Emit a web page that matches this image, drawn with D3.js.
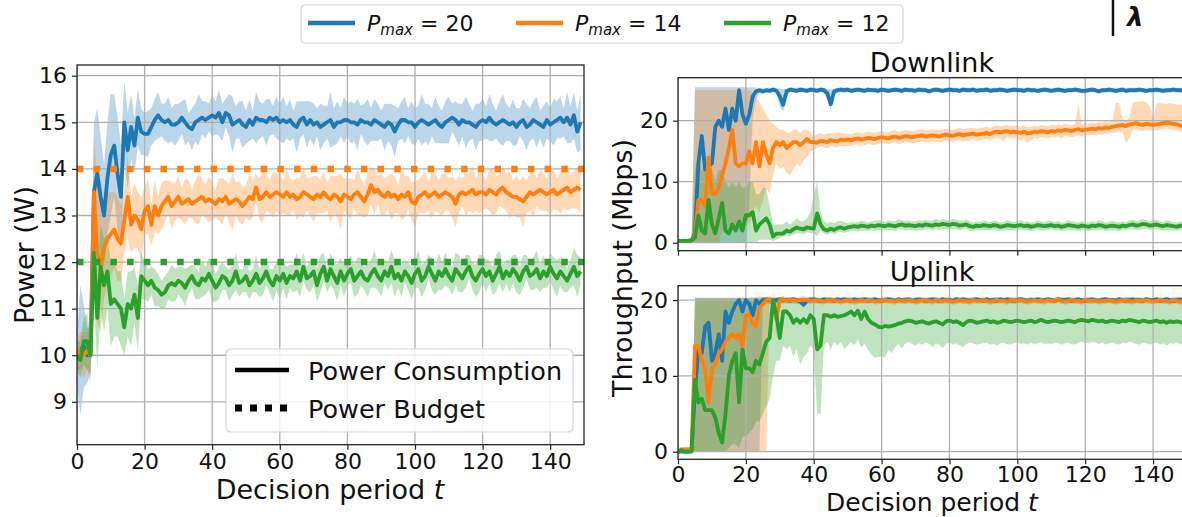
<!DOCTYPE html>
<html>
<head>
<meta charset="utf-8">
<script src="https://cdn.jsdelivr.net/npm/d3@7"></script>
<style>
  body { margin: 0; background: #fff; }
  text { font-family: "DejaVu Sans", sans-serif; fill: #111; white-space: pre; }
</style>
</head>
<body>
<svg id="chart" width="1182" height="517"></svg>
<script>
// decision periods t = 0..149 and tick values
const periods = d3.range(150);
const xTickValues = [0, 20, 40, 60, 80, 100, 120, 140];
const powerTicks = [9, 10, 11, 12, 13, 14, 15, 16];
const throughputTicks = [0, 10, 20];
const pmaxLabels = ["20", "14", "12"];
const budgetValues = [14, 12];   // power budgets for Pmax = 14 and Pmax = 12

// ---- Power (W): mean and half-width of the shaded band ----
const powerBlue = [
  9.9, 10.1, 10.2, 10.0, 10.1, 13.5, 13.9, 13.4, 13.0, 13.8,
  14.3, 14.5, 13.9, 13.4, 15.0, 14.4, 14.9, 14.5, 15.1, 14.8,
  14.75, 14.75, 14.9, 15.05, 15.15, 15.05, 15.0, 15.05, 14.95, 14.95,
  15.0, 15.1, 15.0, 14.9, 14.85, 15.0, 15.05, 15.1, 15.05, 15.1,
  15.15, 15.1, 15.2, 15.0, 15.2, 15.15, 14.95, 15.0, 15.05, 14.95,
  14.9, 15.05, 14.95, 15.1, 15.05, 15.05, 15.0, 15.1, 15.05, 15.1,
  15.0, 15.05, 15.0, 15.05, 14.95, 14.9, 15.05, 15.1, 14.95, 15.05,
  14.95, 15.0, 14.9, 14.95, 15.0, 15.05, 14.9, 15.0, 15.0, 15.05,
  15.05, 15.0, 15.0, 14.95, 15.05, 15.0, 15.0, 14.95, 15.05, 15.0,
  14.95, 14.9, 15.0, 14.95, 14.8, 14.95, 15.05, 15.05, 15.0, 15.0,
  14.9, 15.0, 15.05, 15.0, 14.95, 15.0, 15.05, 14.95, 14.9, 15.0,
  15.05, 15.1, 15.05, 14.95, 15.05, 15.0, 15.0, 14.95, 14.9, 15.0,
  15.05, 15.0, 15.1, 15.0, 14.95, 15.0, 15.05, 15.0, 14.95, 15.0,
  14.9, 15.0, 15.05, 14.9, 14.95, 15.05, 15.0, 14.95, 14.9, 15.05,
  14.95, 15.0, 15.05, 15.1, 15.0, 15.1, 14.95, 15.15, 14.8, 15.0
];
const powerBlueDev = [
  0.5, 1.4, 0.9, 0.6, 0.5, 1.5, 1.4, 1.3, 1.1, 1.2,
  1.3, 1.1, 1.2, 1.1, 0.9, 0.8, 0.7, 0.6, 0.6, 0.5,
  0.45, 0.5, 0.4, 0.45, 0.5, 0.35, 0.4, 0.5, 0.35, 0.45,
  0.4, 0.35, 0.5, 0.3, 0.45, 0.4, 0.55, 0.35, 0.4, 0.3,
  0.45, 0.35, 0.5, 0.4, 0.3, 0.45, 0.6, 0.35, 0.4, 0.5,
  0.35, 0.45, 0.3, 0.55, 0.4, 0.35, 0.5, 0.4, 0.3, 0.45,
  0.4, 0.5, 0.35, 0.45, 0.3, 0.55, 0.4, 0.35, 0.5, 0.4,
  0.45, 0.3, 0.5, 0.4, 0.35, 0.6, 0.4, 0.45, 0.3, 0.5,
  0.35, 0.45, 0.4, 0.55, 0.3, 0.4, 0.5, 0.35, 0.45, 0.4,
  0.3, 0.5, 0.4, 0.45, 0.55, 0.35, 0.4, 0.5, 0.3, 0.45,
  0.4, 0.35, 0.55, 0.4, 0.45, 0.3, 0.5, 0.4, 0.35, 0.45,
  0.5, 0.3, 0.4, 0.45, 0.35, 0.55, 0.4, 0.3, 0.5, 0.4,
  0.45, 0.35, 0.5, 0.4, 0.3, 0.45, 0.55, 0.4, 0.35, 0.5,
  0.4, 0.3, 0.45, 0.5, 0.35, 0.4, 0.55, 0.3, 0.45, 0.4,
  0.35, 0.5, 0.4, 0.45, 0.3, 0.55, 0.4, 0.5, 0.45, 0.6
];
const powerOrange = [
  10.0, 10.1, 10.0, 10.1, 10.0, 13.5, 12.2, 11.9, 12.3, 12.5,
  12.6, 12.7, 12.5, 12.4, 12.9, 13.4, 12.8, 13.0, 12.9, 12.7,
  13.1, 13.2, 12.8, 13.2, 13.0, 13.2, 13.3, 13.4, 13.2, 13.3,
  13.4, 13.25, 13.3, 13.35, 13.25, 13.3, 13.35, 13.4, 13.3, 13.35,
  13.3, 13.25, 13.35, 13.3, 13.4, 13.25, 13.3, 13.35, 13.3, 13.2,
  13.3, 13.4, 13.35, 13.6, 13.35, 13.4, 13.5, 13.4, 13.45, 13.5,
  13.45, 13.4, 13.5, 13.4, 13.45, 13.35, 13.4, 13.5, 13.45, 13.4,
  13.35, 13.45, 13.4, 13.5, 13.4, 13.35, 13.45, 13.4, 13.3, 13.45,
  13.4, 13.35, 13.45, 13.5, 13.4, 13.3, 13.45, 13.65, 13.5, 13.55,
  13.45, 13.4, 13.5, 13.4, 13.45, 13.35, 13.45, 13.4, 13.5, 13.3,
  13.25, 13.4, 13.45, 13.5, 13.4, 13.45, 13.5, 13.4, 13.45, 13.5,
  13.45, 13.4, 13.25, 13.45, 13.5, 13.45, 13.5, 13.55, 13.45, 13.5,
  13.5, 13.45, 13.55, 13.5, 13.45, 13.55, 13.6, 13.5, 13.45, 13.4,
  13.4, 13.35, 13.3, 13.4, 13.5, 13.45, 13.5, 13.55, 13.5, 13.45,
  13.5, 13.55, 13.45, 13.5, 13.55, 13.6, 13.5, 13.55, 13.6, 13.55
];
const powerOrangeDev = [
  0.3, 0.4, 0.5, 0.4, 0.6, 1.2, 1.5, 1.4, 1.1, 1.0,
  0.9, 0.8, 0.9, 0.8, 0.7, 0.9, 0.6, 0.7, 0.6, 0.7,
  0.5, 0.6, 0.45, 0.55, 0.4, 0.5, 0.45, 0.35, 0.5, 0.4,
  0.45, 0.35, 0.5, 0.4, 0.3, 0.45, 0.55, 0.4, 0.35, 0.5,
  0.4, 0.3, 0.45, 0.5, 0.35, 0.4, 0.6, 0.35, 0.45, 0.4,
  0.35, 0.5, 0.4, 0.3, 0.45, 0.55, 0.4, 0.35, 0.5, 0.4,
  0.45, 0.35, 0.5, 0.4, 0.3, 0.45, 0.4, 0.55, 0.35, 0.4,
  0.5, 0.4, 0.35, 0.45, 0.3, 0.5, 0.4, 0.45, 0.6, 0.35,
  0.4, 0.45, 0.3, 0.5, 0.4, 0.35, 0.45, 0.4, 0.5, 0.3,
  0.45, 0.4, 0.35, 0.5, 0.4, 0.3, 0.55, 0.45, 0.35, 0.4,
  0.5, 0.35, 0.4, 0.45, 0.3, 0.5, 0.4, 0.35, 0.45, 0.4,
  0.35, 0.45, 0.5, 0.4, 0.3, 0.45, 0.4, 0.5, 0.35, 0.45,
  0.4, 0.3, 0.45, 0.5, 0.4, 0.35, 0.45, 0.4, 0.5, 0.35,
  0.45, 0.4, 0.55, 0.35, 0.4, 0.5, 0.3, 0.45, 0.4, 0.35,
  0.5, 0.4, 0.35, 0.45, 0.4, 0.5, 0.35, 0.4, 0.45, 0.5
];
const powerGreen = [
  10.0, 9.9, 10.3, 10.3, 10.0, 12.2, 10.8, 11.9, 11.5, 11.8,
  11.1, 11.2, 11.1, 11.0, 10.6, 11.1, 11.0, 11.3, 10.8, 11.7,
  11.6, 11.5, 11.6, 11.45, 11.4, 11.3, 11.35, 11.5, 11.55, 11.5,
  11.6, 11.55, 11.45, 11.6, 11.7, 11.55, 11.5, 11.65, 11.6, 11.75,
  11.6, 11.45, 11.55, 11.7, 11.65, 11.5, 11.6, 11.8, 11.55, 11.6,
  11.7, 11.5, 11.6, 11.75, 11.55, 11.65, 11.8, 11.6, 11.5, 11.7,
  11.6, 11.75, 11.55, 11.7, 11.65, 11.8, 11.6, 11.9, 11.65, 11.7,
  11.8, 11.5, 11.75, 11.9, 11.6, 11.85, 11.7, 11.55, 11.8, 11.6,
  11.75, 11.85, 11.6, 11.7, 11.8, 11.65, 11.6, 11.75, 11.85, 11.7,
  11.6, 11.8, 11.7, 11.9, 11.65, 11.75, 11.6, 11.8, 11.7, 11.55,
  11.75, 11.85, 11.6, 11.7, 11.9, 11.75, 11.6, 11.8, 11.7, 11.85,
  11.7, 11.6, 11.85, 11.75, 11.65, 11.8, 11.9, 11.7, 11.6, 11.75,
  11.85, 11.7, 11.8, 11.6, 11.75, 11.9, 11.65, 11.8, 11.7, 11.85,
  11.75, 11.6, 11.8, 11.9, 11.7, 11.75, 11.85, 11.65, 11.8, 11.7,
  11.9, 11.75, 11.65, 11.8, 11.7, 11.6, 11.75, 11.9, 11.7, 11.8
];
const powerGreenDev = [
  0.3, 0.4, 0.5, 0.6, 0.4, 1.0, 1.1, 0.9, 1.0, 0.8,
  0.9, 0.8, 0.7, 0.8, 0.6, 0.7, 0.8, 0.6, 0.7, 0.5,
  0.4, 0.35, 0.3, 0.4, 0.35, 0.3, 0.35, 0.3, 0.4, 0.35,
  0.3, 0.35, 0.4, 0.3, 0.25, 0.35, 0.3, 0.4, 0.3, 0.35,
  0.45, 0.3, 0.35, 0.3, 0.25, 0.35, 0.3, 0.4, 0.3, 0.25,
  0.35, 0.3, 0.25, 0.4, 0.3, 0.35, 0.3, 0.25, 0.35, 0.3,
  0.4, 0.3, 0.35, 0.25, 0.3, 0.4, 0.35, 0.3, 0.25, 0.35,
  0.3, 0.35, 0.4, 0.3, 0.25, 0.35, 0.3, 0.4, 0.3, 0.35,
  0.25, 0.3, 0.35, 0.4, 0.3, 0.25, 0.35, 0.3, 0.4, 0.3,
  0.35, 0.25, 0.3, 0.35, 0.4, 0.3, 0.35, 0.25, 0.3, 0.35,
  0.3, 0.4, 0.35, 0.3, 0.25, 0.35, 0.3, 0.4, 0.3, 0.35,
  0.25, 0.3, 0.35, 0.4, 0.3, 0.35, 0.25, 0.3, 0.35, 0.4,
  0.3, 0.35, 0.25, 0.3, 0.4, 0.35, 0.3, 0.25, 0.35, 0.3,
  0.4, 0.3, 0.35, 0.25, 0.3, 0.35, 0.4, 0.3, 0.35, 0.25,
  0.3, 0.35, 0.4, 0.3, 0.35, 0.25, 0.3, 0.4, 0.45, 0.3
];

// ---- Downlink throughput (Mbps): mean, band low, band high ----
const dlBlue = [
  0.3, 0.3, 0.3, 0.3, 0.4, 1.5, 13.0, 17.5, 12.0, 12.5,
  13.0, 19.0, 20.0, 19.0, 22.0, 18.5, 22.0, 20.0, 25.0, 21.0,
  19.5, 21.0, 24.0, 24.8, 25.0, 24.8, 25.0, 24.9, 25.1, 24.9,
  24.0, 22.6, 24.8, 25.1, 25.0, 24.9, 25.1, 25.0, 24.9, 25.1,
  25.0, 24.9, 25.1, 25.0, 24.5, 22.7, 24.8, 25.0, 25.1, 25.0,
  25.1, 24.9, 25.0, 25.1, 25.0, 24.9, 25.1, 25.0, 25.0, 24.9,
  25.1, 25.0, 24.9, 25.0, 25.1, 25.0, 24.9, 25.1, 25.0, 25.0,
  24.9, 25.1, 25.0, 25.0, 24.8, 25.0, 25.1, 25.0, 24.9, 25.0,
  25.1, 25.0, 25.0, 24.9, 25.1, 25.0, 25.0, 25.1, 24.9, 25.0,
  25.0, 25.1, 24.9, 25.0, 25.0, 25.1, 25.0, 24.9, 25.0, 25.1,
  25.0, 25.0, 24.9, 25.1, 25.0, 25.0, 24.9, 25.0, 25.1, 25.0,
  24.9, 25.0, 25.1, 25.0, 24.9, 25.0, 25.0, 25.1, 25.0, 24.9,
  24.9, 25.0, 25.1, 25.0, 24.8, 25.0, 25.0, 25.1, 25.0, 24.9,
  25.0, 25.1, 24.9, 25.0, 25.0, 25.0, 25.1, 25.0, 24.9, 25.0,
  25.0, 25.1, 25.0, 24.9, 25.0, 25.0, 25.1, 25.0, 25.0, 24.9
];
const dlBlueLo = [
  0, 0, 0, 0, 0, 0, 0, 0, 0, 0,
  0, 0, 0, 0, 0, 0, 0, 0, 0, 0,
  0, 6, 20.5, 23.5, 24.5, 24.4, 24.6, 24.5, 24.7, 24.5,
  22.3, 21.5, 24.2, 24.7, 24.6, 24.5, 24.7, 24.6, 24.5, 24.7,
  24.6, 24.5, 24.7, 24.5, 23.5, 21.8, 24.3, 24.6, 24.7, 24.6,
  24.7, 24.5, 24.6, 24.7, 24.6, 24.5, 24.7, 24.6, 24.6, 24.5,
  24.7, 24.6, 24.5, 24.6, 24.7, 24.6, 24.5, 24.7, 24.6, 24.6,
  24.5, 24.7, 24.6, 24.6, 24.4, 24.6, 24.7, 24.6, 24.5, 24.6,
  24.7, 24.6, 24.6, 24.5, 24.7, 24.6, 24.6, 24.7, 24.5, 24.6,
  24.6, 24.7, 24.5, 24.6, 24.6, 24.7, 24.6, 24.5, 24.6, 24.7,
  24.6, 24.6, 24.5, 24.7, 24.6, 24.6, 24.5, 24.6, 24.7, 24.6,
  24.5, 24.6, 24.7, 24.6, 24.5, 24.6, 24.6, 24.7, 24.6, 24.5,
  24.5, 24.6, 24.7, 24.6, 24.4, 24.6, 24.6, 24.7, 24.6, 24.5,
  24.6, 24.7, 24.5, 24.6, 24.6, 24.6, 24.7, 24.6, 24.5, 24.6,
  24.6, 24.7, 24.6, 24.5, 24.6, 24.6, 24.7, 24.6, 24.6, 24.5
];
const dlBlueHi = [
  0.6, 0.6, 0.7, 0.6, 0.8, 25.5, 25.5, 25.5, 25.5, 25.5,
  25.5, 25.5, 25.5, 25.5, 25.5, 25.5, 25.5, 25.5, 25.5, 25.5,
  25.5, 25.5, 25.5, 25.4, 25.4, 25.3, 25.4, 25.3, 25.5, 25.3,
  25.3, 25.2, 25.3, 25.5, 25.4, 25.3, 25.5, 25.4, 25.3, 25.5,
  25.4, 25.3, 25.5, 25.4, 25.2, 25.1, 25.3, 25.4, 25.5, 25.4,
  25.5, 25.3, 25.4, 25.5, 25.4, 25.3, 25.5, 25.4, 25.4, 25.3,
  25.5, 25.4, 25.3, 25.4, 25.5, 25.4, 25.3, 25.5, 25.4, 25.4,
  25.3, 25.5, 25.4, 25.4, 25.2, 25.4, 25.5, 25.4, 25.3, 25.4,
  25.5, 25.4, 25.4, 25.3, 25.5, 25.4, 25.4, 25.5, 25.3, 25.4,
  25.4, 25.5, 25.3, 25.4, 25.4, 25.5, 25.4, 25.3, 25.4, 25.5,
  25.4, 25.4, 25.3, 25.5, 25.4, 25.4, 25.3, 25.4, 25.5, 25.4,
  25.3, 25.4, 25.5, 25.4, 25.3, 25.4, 25.4, 25.5, 25.4, 25.3,
  25.3, 25.4, 25.5, 25.4, 25.2, 25.4, 25.4, 25.5, 25.4, 25.3,
  25.4, 25.5, 25.3, 25.4, 25.4, 25.4, 25.5, 25.4, 25.3, 25.4,
  25.4, 25.5, 25.4, 25.3, 25.4, 25.4, 25.5, 25.4, 25.4, 25.3
];
const dlOrange = [
  0.3, 0.3, 0.3, 0.3, 0.4, 1.0, 7.0, 7.0, 6.0, 14.0,
  8.0, 8.0, 9.0, 11.0, 13.0, 15.5, 18.5, 13.0, 12.5, 13.0,
  13.0, 15.0, 13.0, 16.5, 12.5, 16.5, 14.5, 13.0, 15.5, 16.5,
  16.0, 16.5, 15.5, 16.0, 16.5, 16.5, 16.0, 16.5, 17.0, 16.5,
  16.5, 16.4, 16.7, 16.6, 16.5, 16.8, 16.7, 16.6, 16.9, 16.8,
  16.9, 16.8, 17.0, 17.1, 16.9, 17.0, 17.2, 17.1, 17.0, 17.2,
  17.3, 17.2, 17.1, 17.3, 17.4, 17.2, 17.3, 17.5, 17.4, 17.3,
  17.4, 17.5, 17.6, 17.4, 17.5, 17.6, 17.5, 17.4, 17.6, 17.7,
  17.6, 17.5, 17.7, 17.8, 17.6, 17.7, 17.8, 17.9, 17.7, 17.8,
  17.9, 18.0, 17.8, 18.1, 18.2, 18.1, 18.2, 18.3, 18.1, 18.2,
  18.1, 18.0, 18.2, 17.9, 18.0, 18.2, 18.1, 18.3, 18.2, 18.1,
  18.3, 18.2, 18.4, 18.3, 18.5, 18.4, 18.3, 18.5, 18.6, 18.4,
  18.5, 18.6, 18.7, 18.6, 18.8, 18.7, 18.9, 18.8, 19.0, 19.1,
  19.2, 19.3, 19.1, 19.4, 19.5, 19.6, 19.4, 19.3, 19.5, 19.4,
  19.3, 19.4, 19.5, 19.6, 19.7, 19.6, 19.5, 19.4, 19.2, 19.1
];
const dlOrangeLo = [
  0, 0, 0, 0, 0, 0, 0, 0, 0, 0,
  0, 0, 0, 2, 2, 3, 2, 3, 2, 3,
  4, 3, 5, 6, 5, 7, 9, 8, 11, 13,
  12, 12.5, 11.5, 11, 12, 13, 12.5, 13.5, 14, 15,
  15.2, 15.5, 15.8, 15.6, 15.5, 15.9, 15.7, 15.6, 15.9, 15.8,
  15.9, 15.8, 16.0, 16.1, 15.9, 16.0, 16.2, 16.1, 16.0, 16.2,
  16.3, 16.2, 16.1, 16.3, 16.4, 16.2, 16.3, 16.5, 16.4, 16.3,
  16.4, 16.5, 16.6, 16.4, 16.5, 16.6, 16.5, 16.4, 16.6, 16.7,
  16.6, 16.5, 16.7, 16.8, 16.6, 16.7, 16.8, 16.9, 16.7, 16.8,
  16.9, 17.0, 16.8, 17.1, 17.2, 17.1, 16.5, 17.3, 17.1, 17.2,
  17.1, 16.6, 17.2, 16.4, 16.8, 17.2, 17.1, 17.3, 17.2, 17.1,
  17.3, 17.2, 17.4, 17.0, 17.5, 17.4, 17.3, 17.5, 17.6, 17.4,
  17.5, 17.6, 17.7, 17.6, 17.8, 17.7, 17.9, 17.8, 18.0, 18.1,
  18.2, 18.1, 16.3, 17.2, 18.5, 18.6, 18.4, 18.3, 18.5, 18.4,
  18.3, 18.4, 18.5, 18.6, 18.7, 18.6, 18.5, 18.4, 18.2, 18.1
];
const dlOrangeHi = [
  0.6, 0.6, 0.6, 0.6, 0.8, 25, 25, 25, 25, 25,
  25, 25, 25, 25, 25, 25, 25, 25, 25, 25,
  25, 25, 24.5, 24, 23, 22, 21, 20, 19.5, 19,
  18.5, 18.5, 18, 18, 18.5, 18.5, 18, 18.5, 18.5, 18,
  17.5, 17.8, 18.0, 17.7, 17.9, 18.0, 17.8, 18.1, 18.0, 17.9,
  17.9, 17.8, 18.0, 18.1, 17.9, 18.0, 18.2, 18.1, 18.0, 18.2,
  18.3, 18.2, 18.1, 18.3, 18.4, 18.2, 18.3, 18.5, 18.4, 18.3,
  18.4, 18.5, 18.6, 18.4, 18.5, 18.6, 18.5, 18.4, 18.6, 18.7,
  18.6, 18.5, 18.7, 18.8, 18.6, 18.7, 18.8, 18.9, 18.7, 18.8,
  18.9, 19.0, 18.8, 19.1, 19.2, 19.1, 19.2, 19.3, 19.1, 19.2,
  19.1, 19.0, 19.2, 18.9, 19.0, 19.2, 19.1, 19.3, 19.2, 19.1,
  19.3, 19.2, 19.4, 19.3, 19.5, 19.4, 19.3, 19.5, 22.8, 19.4,
  19.5, 19.6, 19.7, 19.6, 19.8, 19.7, 19.9, 19.8, 20.0, 22.9,
  22.9, 20.3, 20.1, 20.4, 23.0, 23.1, 23.1, 23.2, 23.0, 22.5,
  20.3, 22.8, 22.9, 22.8, 22.7, 22.9, 22.8, 22.6, 22.7, 22.5
];
const dlGreen = [
  0.3, 0.3, 0.3, 0.3, 0.4, 0.8, 4.5, 2.0, 1.5, 7.0,
  3.0, 1.5, 4.0, 6.5, 2.0, 1.5, 3.0, 2.0, 3.5, 2.0,
  4.5, 4.5, 5.0, 2.0, 3.0, 3.5, 4.0, 3.0, 1.0, 1.5,
  1.5, 1.5, 2.0, 1.8, 2.2, 2.5, 2.3, 2.2, 2.5, 2.4,
  2.3, 4.8, 3.0, 2.2, 2.0, 2.3, 2.1, 2.4, 2.5, 2.3,
  2.5, 2.6, 2.7, 2.6, 2.8, 2.7, 2.6, 2.8, 2.7, 2.9,
  2.8, 2.7, 2.9, 2.8, 2.7, 2.9, 3.0, 2.8, 2.9, 2.8,
  2.7, 2.9, 2.8, 3.0, 2.9, 2.8, 3.0, 2.9, 3.1, 3.0,
  2.9, 3.1, 3.0, 2.8, 2.9, 3.0, 2.7, 2.6, 2.8, 2.7,
  2.9, 2.8, 2.7, 2.9, 2.8, 2.6, 2.7, 2.9, 2.8, 2.7,
  2.8, 2.9, 2.7, 2.8, 2.6, 2.7, 2.9, 2.8, 2.7, 2.8,
  2.9, 2.7, 2.8, 2.6, 2.7, 2.9, 2.8, 2.7, 2.6, 2.8,
  2.7, 2.6, 2.8, 2.7, 2.9, 2.8, 2.6, 2.7, 2.8, 2.7,
  2.6, 2.8, 2.7, 2.9, 3.0, 2.8, 2.9, 3.1, 3.0, 2.8,
  2.9, 3.0, 2.8, 2.7, 2.9, 2.8, 2.7, 2.6, 2.8, 2.7
];
const dlGreenLo = [
  0, 0, 0, 0, 0, 0, 0, 0, 0, 0,
  0, 0, 0, 0, 0, 0, 0, 0, 0, 0,
  0, 0, 0, 0, 0.5, 0.5, 0.5, 0.5, 0.3, 0.5,
  0.8, 1.0, 1.2, 1.0, 1.4, 1.6, 1.5, 1.4, 1.7, 1.6,
  1.5, 1.0, 2.0, 1.5, 1.3, 1.6, 1.4, 1.7, 1.8, 1.6,
  1.8, 1.9, 2.0, 1.8, 2.0, 2.0, 1.9, 2.1, 1.9, 2.1,
  2.0, 2.0, 2.1, 2.1, 1.9, 2.2, 2.2, 2.0, 2.1, 2.1,
  2.0, 2.1, 2.0, 2.2, 2.2, 2.0, 2.3, 2.1, 2.3, 2.2,
  2.2, 2.3, 2.2, 2.0, 2.2, 2.3, 1.9, 1.9, 2.1, 2.0,
  2.1, 2.1, 2.0, 2.2, 2.0, 1.9, 2.0, 2.1, 2.1, 2.0,
  2.1, 2.1, 2.0, 2.1, 1.9, 2.0, 2.2, 2.0, 2.0, 2.1,
  2.2, 2.0, 2.1, 1.9, 2.0, 2.1, 2.1, 2.0, 1.9, 2.1,
  2.0, 1.9, 2.1, 2.0, 2.1, 2.1, 1.9, 2.0, 2.0, 2.0,
  1.9, 2.1, 2.0, 2.2, 2.2, 2.1, 2.1, 2.3, 2.3, 2.1,
  2.2, 2.2, 2.1, 2.0, 2.1, 2.1, 2.0, 1.9, 2.1, 2.0
];
const dlGreenHi = [
  0.5, 0.5, 0.6, 0.5, 0.7, 12, 14, 12, 12, 14,
  12, 10, 12, 12, 10, 9, 10, 9, 10, 9,
  9, 10, 10, 8, 8, 9, 9, 6, 3, 3,
  3, 3, 3.5, 3, 3.5, 4, 3.5, 3.5, 4, 5,
  8, 10, 5, 3.5, 3.2, 3.4, 3.2, 3.5, 3.6, 3.4,
  3.2, 3.4, 3.3, 3.4, 3.6, 3.5, 3.3, 3.5, 3.6, 3.7,
  3.6, 3.4, 3.7, 3.5, 3.5, 3.8, 3.7, 3.6, 3.7, 3.5,
  3.5, 3.7, 3.6, 3.8, 3.6, 3.6, 3.9, 3.7, 3.8, 3.8,
  3.6, 3.9, 3.8, 3.6, 3.6, 3.8, 3.5, 3.3, 3.5, 3.4,
  3.7, 3.5, 3.4, 3.6, 3.6, 3.3, 3.4, 3.7, 3.5, 3.4,
  3.5, 3.7, 3.4, 3.5, 3.3, 3.4, 3.7, 3.5, 3.4, 3.6,
  3.6, 3.4, 3.5, 3.3, 3.4, 3.7, 3.5, 3.4, 3.3, 3.5,
  3.4, 3.3, 3.5, 3.4, 3.7, 3.5, 3.3, 3.4, 3.6, 3.4,
  3.3, 3.5, 3.4, 3.7, 3.8, 3.5, 3.7, 3.9, 3.7, 3.5,
  3.6, 3.8, 3.5, 3.4, 3.7, 3.5, 3.4, 3.3, 3.5, 3.4
];

// ---- Uplink throughput (Mbps): mean, band low, band high ----
const ulBlue = [
  0, 0, 0, 0, 0.2, 8.0, 13.5, 13.0, 16.5, 17.0,
  12.0, 13.0, 15.5, 12.0, 18.5, 17.0, 18.5, 19.5, 20.0, 18.5,
  20.0, 19.5, 18.0, 20.0, 19.5, 20.0, 20.1, 20.0, 19.9, 20.0,
  20.1, 20.0, 20.0, 19.9, 20.1, 20.0, 19.8, 19.4, 19.9, 20.0,
  20.1, 20.0, 19.9, 20.1, 20.0, 20.0, 19.9, 20.1, 20.0, 20.1,
  20.0, 19.9, 20.1, 20.0, 20.0, 20.1, 19.9, 20.0, 20.1, 20.0,
  19.9, 20.0, 20.1, 20.0, 19.9, 20.1, 20.0, 20.0, 20.1, 19.9,
  20.0, 20.1, 20.0, 19.9, 20.0, 20.1, 20.0, 19.9, 20.1, 20.0,
  20.0, 19.9, 20.1, 20.0, 20.1, 20.0, 19.9, 20.0, 20.1, 20.0,
  19.9, 20.1, 20.0, 20.0, 19.9, 20.1, 20.0, 20.1, 20.0, 19.9,
  20.0, 20.1, 20.0, 19.9, 20.0, 20.0, 20.1, 19.9, 20.0, 20.1,
  20.0, 19.9, 20.1, 20.0, 20.0, 20.1, 19.9, 20.0, 20.1, 20.0,
  19.9, 20.0, 20.1, 20.0, 19.9, 20.0, 20.1, 20.0, 20.0, 19.9,
  20.1, 20.0, 19.9, 20.0, 20.1, 20.0, 20.0, 19.9, 20.1, 20.0,
  20.0, 20.1, 19.9, 20.0, 20.1, 20.0, 19.9, 20.0, 20.1, 20.0
];
const ulBlueLo = [
  0, 0, 0, 0, 0, 0, 0, 0, 0, 0,
  0, 0, 0, 0, 0, 0, 0, 0, 0, 0,
  0, 0, 0, 0, 0, 19.5, 19.6, 19.5, 19.6, 19.6,
  19.7, 19.6, 19.7, 19.6, 19.7, 19.6, 19.4, 19.0, 19.6, 19.7,
  19.7, 19.6, 19.6, 19.7, 19.6, 19.7, 19.6, 19.7, 19.7, 19.8,
  19.7, 19.6, 19.7, 19.7, 19.6, 19.8, 19.6, 19.7, 19.7, 19.6,
  19.6, 19.7, 19.8, 19.7, 19.6, 19.7, 19.7, 19.6, 19.8, 19.6,
  19.7, 19.8, 19.7, 19.6, 19.7, 19.7, 19.6, 19.6, 19.8, 19.7,
  19.7, 19.6, 19.7, 19.7, 19.8, 19.6, 19.6, 19.7, 19.8, 19.7,
  19.6, 19.7, 19.7, 19.6, 19.6, 19.8, 19.7, 19.7, 19.6, 19.6,
  19.7, 19.8, 19.6, 19.6, 19.7, 19.7, 19.8, 19.6, 19.7, 19.7,
  19.7, 19.6, 19.8, 19.7, 19.6, 19.7, 19.6, 19.7, 19.8, 19.7,
  19.6, 19.7, 19.7, 19.6, 19.6, 19.7, 19.8, 19.7, 19.6, 19.6,
  19.8, 19.7, 19.6, 19.7, 19.7, 19.6, 19.7, 19.6, 19.8, 19.7,
  19.7, 19.8, 19.6, 19.7, 19.7, 19.6, 19.6, 19.7, 19.8, 19.7
];
const ulBlueHi = [
  0.3, 0.3, 0.3, 0.3, 0.5, 20.3, 20.3, 20.3, 20.3, 20.3,
  20.3, 20.3, 20.3, 20.3, 20.3, 20.3, 20.3, 20.3, 20.3, 20.3,
  20.3, 20.3, 20.3, 20.3, 20.3, 20.4, 20.4, 20.3, 20.3, 20.4,
  20.4, 20.3, 20.4, 20.3, 20.4, 20.3, 20.2, 20.1, 20.3, 20.4,
  20.4, 20.3, 20.3, 20.4, 20.3, 20.4, 20.3, 20.4, 20.3, 20.5,
  20.3, 20.3, 20.4, 20.3, 20.4, 20.4, 20.3, 20.3, 20.4, 20.3,
  20.3, 20.4, 20.4, 20.3, 20.3, 20.4, 20.3, 20.4, 20.4, 20.3,
  20.3, 20.4, 20.3, 20.3, 20.4, 20.4, 20.3, 20.3, 20.4, 20.3,
  20.4, 20.3, 20.4, 20.3, 20.4, 20.3, 20.3, 20.4, 20.4, 20.3,
  20.3, 20.4, 20.3, 20.4, 20.3, 20.4, 20.3, 20.4, 20.3, 20.3,
  20.4, 20.4, 20.3, 20.3, 20.4, 20.3, 20.4, 20.3, 20.3, 20.4,
  20.3, 20.3, 20.4, 20.3, 20.4, 20.4, 20.3, 20.3, 20.4, 20.3,
  20.3, 20.3, 20.4, 20.3, 20.3, 20.4, 20.4, 20.3, 20.3, 20.3,
  20.4, 20.3, 20.3, 20.4, 20.4, 20.3, 20.3, 20.3, 20.4, 20.3,
  20.3, 20.4, 20.3, 20.3, 20.4, 20.3, 20.3, 20.4, 20.4, 20.3
];
const ulOrange = [
  0, 0.3, 0.3, 0.3, 0.3, 14.0, 14.0, 12.0, 11.0, 6.5,
  11.0, 11.5, 13.0, 13.5, 14.5, 15.0, 15.5, 15.0, 15.5, 14.0,
  18.0, 18.0, 17.0, 16.5, 19.0, 19.5, 20.0, 20.1, 19.8, 17.5,
  20.0, 20.1, 19.9, 20.0, 20.0, 19.9, 20.0, 20.1, 20.0, 19.9,
  19.9, 20.0, 19.9, 19.8, 20.0, 19.9, 20.0, 19.9, 19.8, 19.9,
  20.0, 19.9, 19.8, 19.9, 20.0, 19.9, 19.9, 20.0, 19.8, 19.9,
  19.9, 20.0, 19.9, 19.9, 19.8, 20.0, 19.9, 19.9, 20.0, 19.9,
  19.8, 19.9, 20.0, 19.9, 19.9, 19.8, 20.0, 19.9, 19.9, 20.0,
  19.9, 19.8, 19.9, 20.0, 19.9, 19.9, 19.8, 20.0, 19.9, 19.9,
  20.0, 19.9, 19.8, 19.9, 20.0, 19.9, 19.9, 19.8, 20.0, 19.9,
  19.9, 20.0, 19.9, 19.8, 19.9, 20.0, 19.9, 19.9, 19.8, 20.0,
  19.9, 19.9, 20.1, 19.9, 19.8, 19.9, 20.0, 19.9, 19.9, 19.8,
  20.0, 19.9, 19.9, 20.0, 19.8, 19.9, 19.9, 20.0, 19.9, 19.8,
  19.9, 20.0, 19.9, 19.9, 19.8, 20.0, 19.9, 19.9, 20.0, 19.9,
  19.8, 19.9, 20.0, 19.9, 19.9, 19.8, 20.0, 19.9, 19.8, 19.9
];
const ulOrangeLo = [
  0, 0, 0, 0, 0, 0, 0, 0, 0, 0,
  0, 0, 0, 0, 0, 0, 0, 0, 0, 0,
  0, 0, 0, 0, 0, 0, 0, 19.4, 19.3, 15.0,
  19.5, 19.6, 19.5, 19.6, 19.5, 19.5, 19.6, 19.7, 19.6, 19.5,
  19.5, 19.6, 19.5, 19.4, 19.6, 19.5, 19.6, 19.5, 19.4, 19.5,
  19.6, 19.5, 19.4, 19.5, 19.6, 19.5, 19.5, 19.6, 19.4, 19.5,
  19.5, 19.6, 19.5, 19.5, 19.4, 19.6, 19.5, 19.5, 19.6, 19.5,
  19.4, 19.5, 19.6, 19.5, 19.5, 19.4, 19.6, 19.5, 19.5, 19.6,
  19.5, 19.4, 19.5, 19.6, 19.5, 19.5, 19.4, 19.6, 19.5, 19.5,
  19.6, 19.5, 19.4, 19.5, 19.6, 19.5, 19.5, 19.4, 19.6, 19.5,
  19.5, 19.6, 19.5, 19.4, 19.5, 19.6, 19.5, 19.5, 19.4, 19.6,
  19.5, 19.5, 19.7, 19.5, 19.4, 19.5, 19.6, 19.5, 19.5, 19.4,
  19.6, 19.5, 19.5, 19.6, 19.4, 19.5, 19.5, 19.6, 19.5, 19.4,
  19.5, 19.6, 19.5, 19.5, 19.4, 19.6, 19.5, 19.5, 19.6, 19.5,
  19.4, 19.5, 19.6, 19.5, 19.5, 19.4, 19.6, 19.5, 19.4, 19.5
];
const ulOrangeHi = [
  0.6, 0.6, 0.6, 0.6, 0.6, 20.3, 20.3, 20.3, 20.3, 20.3,
  20.3, 20.3, 20.3, 20.3, 20.3, 20.3, 20.3, 20.3, 20.3, 20.3,
  20.3, 20.3, 20.4, 20.4, 20.5, 20.4, 20.4, 20.5, 20.3, 20.2,
  20.4, 20.5, 20.3, 20.4, 20.4, 20.3, 20.4, 20.5, 20.4, 20.3,
  20.3, 20.4, 20.3, 20.2, 20.4, 20.3, 20.4, 20.3, 20.2, 20.3,
  20.4, 20.3, 20.2, 20.3, 20.4, 20.3, 20.3, 20.4, 20.2, 20.3,
  20.3, 20.4, 20.3, 20.3, 20.2, 20.4, 20.3, 20.3, 20.4, 20.3,
  20.2, 20.3, 20.4, 20.3, 20.3, 20.2, 20.4, 20.3, 20.3, 20.4,
  20.3, 20.2, 20.3, 20.4, 20.3, 20.3, 20.2, 20.4, 20.3, 20.3,
  20.4, 20.3, 20.2, 20.3, 20.4, 20.3, 20.3, 20.2, 20.4, 20.3,
  20.3, 20.4, 20.3, 20.2, 20.3, 20.4, 20.3, 20.3, 20.2, 20.4,
  20.3, 20.3, 20.5, 20.3, 20.2, 20.3, 20.4, 20.3, 20.3, 20.2,
  20.4, 20.3, 20.3, 20.4, 20.2, 20.3, 20.3, 20.4, 20.3, 20.2,
  20.3, 20.4, 20.3, 20.3, 20.2, 20.4, 20.3, 20.3, 20.4, 20.3,
  20.2, 20.3, 20.4, 20.3, 20.3, 20.2, 20.4, 20.3, 20.2, 20.3
];
const ulGreen = [
  0, 0.2, 0, 0, 0, 9.5, 6.5, 7.0, 5.5, 5.5,
  5.5, 4.5, 2.5, 1.2, 5.0, 10.0, 12.0, 13.0, 6.5, 13.5,
  11.0, 11.0, 10.5, 12.0, 11.5, 13.0, 14.5, 15.0, 20.0, 18.0,
  15.0, 18.5, 18.5, 18.0, 17.0, 17.5, 17.0, 17.5, 17.0, 18.0,
  17.5, 13.5, 14.0, 18.0, 18.0, 17.8, 18.0, 17.8, 17.9, 18.0,
  18.2, 18.5, 18.0, 18.6, 17.5, 18.5, 17.5, 17.0, 16.8, 16.5,
  16.4, 16.6, 16.5, 16.6, 16.7, 16.9, 17.0, 17.2, 17.3, 17.2,
  17.0, 17.1, 17.2, 17.0, 16.9, 17.1, 17.2, 17.0, 16.8, 17.2,
  17.3, 17.1, 17.2, 17.0, 16.7, 17.1, 17.3, 17.2, 17.0, 17.1,
  17.2, 17.3, 17.1, 17.2, 17.0, 17.1, 17.3, 17.2, 17.1, 17.2,
  17.3, 17.2, 17.1, 17.2, 17.3, 17.1, 17.2, 17.4, 17.2, 17.1,
  17.2, 17.3, 17.2, 17.1, 17.2, 17.3, 17.2, 17.1, 17.3, 17.4,
  17.3, 17.2, 17.4, 17.3, 17.2, 17.3, 17.1, 17.2, 17.3, 17.2,
  17.1, 17.3, 17.2, 17.4, 17.3, 17.2, 17.1, 17.3, 17.2, 17.1,
  17.2, 17.3, 17.1, 17.2, 17.0, 17.2, 17.1, 17.2, 17.1, 17.0
];
const ulGreenLo = [
  0, 0, 0, 0, 0, 0, 0, 0, 0, 0,
  0, 0, 0, 0, 0, 0.5, 1, 1, 0.5, 2,
  2, 2.5, 3, 4, 4, 5, 6, 7, 10, 12,
  12, 14, 13.5, 14, 12.5, 13.5, 11.5, 12.5, 13, 14,
  13.5, 5, 5, 14, 14.5, 13.5, 14.5, 14, 14.5, 13.5,
  14, 14.5, 14, 14.8, 13.8, 14.2, 13.5, 12.8, 12.4, 12.5,
  12.6, 12.4, 13.5, 13, 13.8, 14.2, 13.6, 14.3, 14.5, 14.2,
  14, 14.3, 14.1, 14.4, 14.2, 13.8, 14.3, 14.1, 13.6, 14.2,
  14.4, 14.1, 14.3, 14, 13.8, 14.2, 14.4, 14.3, 14.1, 14.2,
  14.3, 14.4, 14.1, 14.2, 14, 14.3, 14.4, 14.2, 14.1, 14.3,
  14.4, 14.2, 14.3, 14.1, 14.4, 14.2, 14.3, 14.5, 14.2, 14.3,
  14.2, 14.4, 14.3, 14.1, 14.3, 14.4, 14.2, 14.1, 14.4, 14.5,
  14.4, 14.3, 14.5, 14.4, 14.2, 14.4, 14.1, 14.3, 14.4, 14.2,
  14.1, 14.4, 14.3, 14.5, 14.4, 14.2, 14.1, 14.4, 14.3, 14.1,
  14.3, 14.4, 14.1, 14.3, 14, 14.3, 14.2, 14.4, 14.2, 14.1
];
const ulGreenHi = [
  0.3, 0.4, 0.3, 0.3, 1, 20.2, 20.2, 20.2, 20.2, 20.2,
  20.2, 20.2, 20.2, 20.2, 20.2, 20.2, 20.2, 20.2, 20.2, 20.2,
  20.2, 20.2, 20.2, 20.2, 20.2, 20.3, 20.2, 20.3, 20.3, 20.3,
  20.2, 20.3, 20.2, 20.4, 20.3, 20.2, 20.3, 20.2, 20.3, 20.4,
  20.3, 20.2, 20.3, 20.2, 20.4, 20.3, 20.2, 20.3, 20.3, 20.2,
  20.3, 20.4, 20.2, 20.3, 20.2, 20.3, 20.4, 20.2, 20.3, 20.2,
  20.3, 20.2, 20.3, 20.4, 20.2, 20.3, 20.2, 20.3, 20.3, 20.2,
  20.4, 20.3, 20.2, 20.3, 20.2, 20.3, 20.4, 20.2, 20.3, 20.2,
  20.3, 20.2, 20.4, 20.3, 20.2, 20.3, 20.3, 20.2, 20.4, 20.3,
  20.2, 20.3, 20.2, 20.3, 20.4, 20.2, 20.3, 20.2, 20.3, 20.3,
  20.2, 20.4, 20.3, 20.2, 20.3, 20.2, 20.3, 20.4, 20.2, 20.3,
  20.3, 20.2, 20.3, 20.4, 20.2, 20.3, 20.2, 20.3, 20.3, 20.2,
  20.4, 20.3, 20.2, 20.3, 20.2, 20.3, 20.4, 20.2, 20.3, 20.2,
  20.3, 20.2, 20.4, 20.3, 20.2, 20.3, 20.3, 20.2, 20.4, 20.3,
  20.2, 20.3, 20.2, 20.3, 20.4, 20.2, 20.3, 20.2, 20.3, 20.3
];

const colors = ["#1f77b4", "#ff7f0e", "#2ca02c"];
const budgetColors = [colors[1], colors[2]];

const svg = d3.select("#chart");

// one axes panel, matplotlib style
function drawPanel(id, box, yDomain, yTicks, series, showXLabels, xPad) {
  const x = d3.scaleLinear().domain([0, 150]).range([box.left, box.right]);
  const y = d3.scaleLinear().domain(yDomain).range([box.bottom, box.top]);

  svg.append("clipPath").attr("id", "clip-" + id)
    .append("rect")
    .attr("x", box.left).attr("y", box.top)
    .attr("width", box.right - box.left).attr("height", box.bottom - box.top);

  const g = svg.append("g");
  const plot = g.append("g").attr("clip-path", `url(#clip-${id})`);

  // shaded bands
  const area = d3.area()
    .x((d, i) => x(periods[i]))
    .y0(d => y(d[0]))
    .y1(d => y(d[1]));
  series.forEach(s => {
    plot.append("path")
      .datum(s.lo.map((v, i) => [v, s.hi[i]]))
      .attr("d", area)
      .attr("fill", s.color)
      .attr("fill-opacity", 0.3);
  });

  // grid
  plot.append("g").selectAll("line")
    .data(xTickValues).join("line")
    .attr("x1", d => x(d)).attr("x2", d => x(d))
    .attr("y1", box.top).attr("y2", box.bottom)
    .attr("stroke", "#b0b0b0").attr("stroke-width", 1.3);
  plot.append("g").selectAll("line")
    .data(yTicks).join("line")
    .attr("x1", box.left).attr("x2", box.right)
    .attr("y1", d => y(d)).attr("y2", d => y(d))
    .attr("stroke", "#b0b0b0").attr("stroke-width", 1.3);

  // mean lines
  const line = d3.line()
    .x((d, i) => x(periods[i]))
    .y(d => y(d));
  series.forEach(s => {
    plot.append("path")
      .datum(s.mean)
      .attr("d", line)
      .attr("fill", "none")
      .attr("stroke", s.color)
      .attr("stroke-width", 3.8)
      .attr("stroke-linejoin", "round");
  });

  // axes
  const xAxis = d3.axisBottom(x).tickValues(xTickValues).tickSize(5).tickPadding(xPad);
  if (!showXLabels) xAxis.tickFormat("");
  g.append("g")
    .attr("transform", `translate(0,${box.bottom})`)
    .call(xAxis)
    .call(a => a.select(".domain").remove())
    .attr("font-size", 22).attr("font-family", "DejaVu Sans")
    .call(a => a.selectAll("line").attr("stroke", "#222").attr("stroke-width", 1.2))
    .call(a => a.selectAll("text").attr("fill", "#111"));

  g.append("g")
    .attr("transform", `translate(${box.left},0)`)
    .call(d3.axisLeft(y).tickValues(yTicks).tickSize(5).tickPadding(5))
    .call(a => a.select(".domain").remove())
    .attr("font-size", 22).attr("font-family", "DejaVu Sans")
    .call(a => a.selectAll("line").attr("stroke", "#222").attr("stroke-width", 1.2))
    .call(a => a.selectAll("text").attr("fill", "#111"));

  // spines
  g.append("rect")
    .attr("x", box.left).attr("y", box.top)
    .attr("width", box.right - box.left).attr("height", box.bottom - box.top)
    .attr("fill", "none").attr("stroke", "#222").attr("stroke-width", 1.3);

  return { x, y, plot, g };
}

function mkBand(mean, dev) {
  return { lo: mean.map((v, i) => v - dev[i]), hi: mean.map((v, i) => v + dev[i]) };
}

// ---------- left: power ----------
const powerSeries = [
  Object.assign({ mean: powerBlue, color: colors[0] }, mkBand(powerBlue, powerBlueDev)),
  Object.assign({ mean: powerOrange, color: colors[1] }, mkBand(powerOrange, powerOrangeDev)),
  Object.assign({ mean: powerGreen, color: colors[2] }, mkBand(powerGreen, powerGreenDev))
];
const powerBox = { left: 77, right: 584, top: 65, bottom: 444.7 };
const pw = drawPanel("power", powerBox, [8.08, 16.23], powerTicks, powerSeries, true, 4);

// power budget lines
budgetValues.forEach((b, i) => {
  pw.plot.append("line")
    .attr("x1", powerBox.left).attr("x2", powerBox.right)
    .attr("y1", pw.y(b)).attr("y2", pw.y(b))
    .attr("stroke", budgetColors[i])
    .attr("stroke-width", 6.5)
    .attr("stroke-dasharray", "6.5,10.2");
});

// inner legend
const il = svg.append("g");
il.append("rect")
  .attr("x", 226).attr("y", 349).attr("width", 347).attr("height", 83)
  .attr("rx", 5).attr("fill", "#fff").attr("fill-opacity", 0.85)
  .attr("stroke", "#d6d6d6").attr("stroke-width", 1.2);
il.append("line").attr("x1", 235).attr("x2", 289).attr("y1", 370).attr("y2", 370)
  .attr("stroke", "#000").attr("stroke-width", 4.5);
il.append("line").attr("x1", 235).attr("x2", 289).attr("y1", 408).attr("y2", 408)
  .attr("stroke", "#000").attr("stroke-width", 7).attr("stroke-dasharray", "7,8");
il.append("text").attr("x", 308).attr("y", 380).attr("font-size", 25.5).text("Power Consumption");
il.append("text").attr("x", 308).attr("y", 418).attr("font-size", 25.5).text("Power Budget");

// axis labels (left)
svg.append("text")
  .attr("transform", "translate(34,255) rotate(-90)")
  .attr("text-anchor", "middle").attr("font-size", 27)
  .text("Power (W)");
const xl1 = svg.append("text").attr("x", 330).attr("y", 499)
  .attr("text-anchor", "middle").attr("font-size", 27);
xl1.append("tspan").text("Decision period ");
xl1.append("tspan").attr("font-style", "italic").text("t");

// ---------- right: downlink / uplink ----------
const dlBox = { left: 678, right: 1187, top: 77.7, bottom: 250.7 };
const ulBox = { left: 678, right: 1187, top: 285.7, bottom: 459.3 };

drawPanel("dl", dlBox, [-1.31, 27.05], throughputTicks, [
  { mean: dlBlue, lo: dlBlueLo, hi: dlBlueHi, color: colors[0] },
  { mean: dlOrange, lo: dlOrangeLo, hi: dlOrangeHi, color: colors[1] },
  { mean: dlGreen, lo: dlGreenLo, hi: dlGreenHi, color: colors[2] }
], false, 4);

drawPanel("ul", ulBox, [-1.0, 21.9], throughputTicks, [
  { mean: ulBlue, lo: ulBlueLo, hi: ulBlueHi, color: colors[0] },
  { mean: ulOrange, lo: ulOrangeLo, hi: ulOrangeHi, color: colors[1] },
  { mean: ulGreen, lo: ulGreenLo, hi: ulGreenHi, color: colors[2] }
], true, 2);

svg.append("text").attr("x", 932).attr("y", 72)
  .attr("text-anchor", "middle").attr("font-size", 27).text("Downlink");
svg.append("text").attr("x", 932).attr("y", 281)
  .attr("text-anchor", "middle").attr("font-size", 27).text("Uplink");
svg.append("text")
  .attr("transform", "translate(632,268) rotate(-90)")
  .attr("text-anchor", "middle").attr("font-size", 27)
  .text("Throughput (Mbps)");
const xl2 = svg.append("text").attr("x", 932).attr("y", 510.5)
  .attr("text-anchor", "middle").attr("font-size", 25);
xl2.append("tspan").text("Decision period ");
xl2.append("tspan").attr("font-style", "italic").text("t");

// ---------- top legend ----------
const leg = svg.append("g");
leg.append("rect")
  .attr("x", 301).attr("y", 5).attr("width", 602).attr("height", 38)
  .attr("rx", 4).attr("fill", "#fff")
  .attr("stroke", "#d6d6d6").attr("stroke-width", 1.2);
const legX = [308, 516, 724];
pmaxLabels.forEach((lab, i) => {
  leg.append("line")
    .attr("x1", legX[i]).attr("x2", legX[i] + 47)
    .attr("y1", 23).attr("y2", 23)
    .attr("stroke", colors[i]).attr("stroke-width", 4.5);
  const t = leg.append("text").attr("x", legX[i] + 59).attr("y", 31).attr("font-size", 22);
  t.append("tspan").attr("font-style", "italic").text("P");
  t.append("tspan").attr("font-style", "italic").attr("font-size", 15).attr("dy", 4).text("max");
  t.append("tspan").attr("dy", -4).text(" = " + lab);
});

// cropped piece of a neighbouring figure (top right corner)
svg.append("line").attr("x1", 1113).attr("x2", 1113).attr("y1", 0).attr("y2", 36)
  .attr("stroke", "#111").attr("stroke-width", 2.5);
svg.append("text").attr("x", 1127).attr("y", 26)
  .attr("font-family", "DejaVu Serif").attr("font-style", "italic").attr("font-weight", "bold")
  .attr("font-size", 26).text("λ");
</script>
</body>
</html>
